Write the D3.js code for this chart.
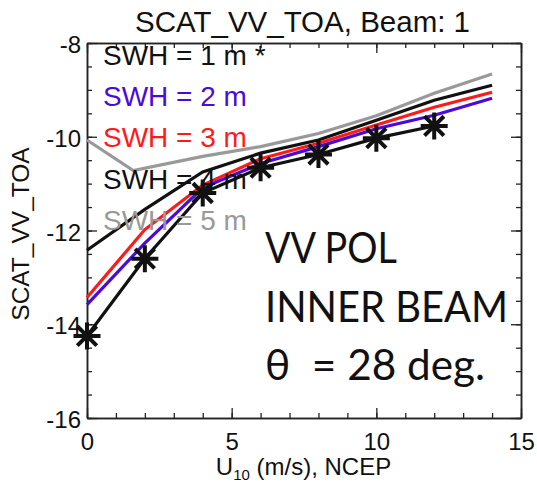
<!DOCTYPE html>
<html><head><meta charset="utf-8">
<script src="https://cdn.jsdelivr.net/npm/d3@7"></script>
<style>
html,body{margin:0;padding:0;background:#fff;}
svg{display:block;}
text{font-family:"Liberation Sans",Arial,Helvetica,sans-serif;}
</style></head>
<body><svg id="c" width="537" height="482"></svg>
<script>
// ---- data ----
const windX   = [0, 2, 4, 6, 8, 10, 12, 14];
const grayX   = [0, 1.6, 4, 6, 8, 10, 12, 14];
const markerX = [0, 2, 4, 6, 8, 10, 12];
const swh1 = [-14.25, -12.6, -11.2, -10.66, -10.38, -10.03, -9.77];
const swh2 = [-13.58, -12.27, -11.09, -10.57, -10.21, -9.83, -9.54, -9.18];
const swh3 = [-13.43, -11.98, -11.03, -10.47, -10.14, -9.75, -9.37, -9.05];
const swh4 = [-12.42, -11.55, -10.75, -10.35, -10.07, -9.65, -9.22, -8.9];
const swh5 = [-10.07, -10.72, -10.42, -10.21, -9.93, -9.55, -9.07, -8.66];
const legendLabels = ["SWH = 1 m *", "SWH = 2 m", "SWH = 3 m", "SWH = 4 m", "SWH = 5 m"];
const xMajorTicks = [0, 5, 10, 15];
const yMajorTicks = [-16, -14, -12, -10, -8];
const noteLines = ["VV POL", "INNER BEAM", "\u03b8  = 28 deg."];
const title = "SCAT_VV_TOA, Beam: 1";
const yTitle = "SCAT_VV_TOA";

// ---- layout ----
const L = 87, R = 521, T = 43, B = 418;
const colors = ["#111111", "#4a0adc", "#ff1a1a", "#111111", "#999999"];
const svg = d3.select("#c");
const x = d3.scaleLinear().domain([0, 15]).range([L, R]);
const y = d3.scaleLinear().domain([-16, -8]).range([B, T]);
const xMinor = d3.range(0, 16, 1);
const yMinor = d3.range(-16, -7.9, 0.5);
const fmt = d => String(d);

function styleAxis(g){
  g.select(".domain").attr("stroke","#222").attr("stroke-width",1.5);
  g.selectAll(".tick line").attr("stroke","#222").attr("stroke-width",1.3);
  g.selectAll(".tick text").attr("fill","#111").style("font-size","24px")
   .style("font-family",'"Liberation Sans",Arial,sans-serif');
}
// minor ticks
svg.append("g").attr("transform",`translate(0,${B})`)
  .call(d3.axisBottom(x).tickValues(xMinor).tickSizeInner(-5).tickSizeOuter(0).tickFormat(""))
  .call(styleAxis);
svg.append("g").attr("transform",`translate(0,${T})`)
  .call(d3.axisTop(x).tickValues(xMinor).tickSizeInner(-5).tickSizeOuter(0).tickFormat(""))
  .call(styleAxis);
svg.append("g").attr("transform",`translate(${L},0)`)
  .call(d3.axisLeft(y).tickValues(yMinor).tickSizeInner(-5).tickSizeOuter(0).tickFormat(""))
  .call(styleAxis);
svg.append("g").attr("transform",`translate(${R},0)`)
  .call(d3.axisRight(y).tickValues(yMinor).tickSizeInner(-5).tickSizeOuter(0).tickFormat(""))
  .call(styleAxis);
// major ticks
svg.append("g").attr("transform",`translate(0,${B})`)
  .call(d3.axisBottom(x).tickValues(xMajorTicks).tickSizeInner(-10).tickSizeOuter(0).tickPadding(15).tickFormat(fmt))
  .call(styleAxis);
svg.append("g").attr("transform",`translate(0,${T})`)
  .call(d3.axisTop(x).tickValues(xMajorTicks).tickSizeInner(-10).tickSizeOuter(0).tickFormat(""))
  .call(styleAxis);
svg.append("g").attr("transform",`translate(${L},0)`)
  .call(d3.axisLeft(y).tickValues(yMajorTicks).tickSizeInner(-10).tickSizeOuter(0).tickPadding(6).tickFormat(fmt))
  .call(styleAxis)
  .selectAll(".tick text").attr("dy","0.4em");
svg.append("g").attr("transform",`translate(${R},0)`)
  .call(d3.axisRight(y).tickValues(yMajorTicks).tickSizeInner(-10).tickSizeOuter(0).tickFormat(""))
  .call(styleAxis);

// lines
const line = d3.line().x(d=>x(d[0])).y(d=>y(d[1]));
const series = [
  {xs: markerX, ys: swh1, c: colors[0]},
  {xs: windX, ys: swh4, c: colors[3]},
  {xs: grayX, ys: swh5, c: colors[4]},
  {xs: windX, ys: swh3, c: colors[2]},
  {xs: windX, ys: swh2, c: colors[1]},
];
[series[2], series[1], series[3], series[4], series[0]].forEach(s=>{
  svg.append("path").datum(s.xs.map((v,i)=>[v, s.ys[i]]))
    .attr("d", line).attr("fill","none").attr("stroke", s.c)
    .attr("stroke-width",3.2).attr("stroke-linejoin","miter");
});
// asterisk markers
const r = 13.5;
const k = r*0.72;
const star = `M${-r},0L${r},0M0,${-r}L0,${r}M${-k},${-k}L${k},${k}M${-k},${k}L${k},${-k}`;
svg.append("g").selectAll("path").data(markerX.map((v,i)=>[v, swh1[i]])).join("path")
  .attr("transform", d=>`translate(${x(d[0])},${y(d[1])})`)
  .attr("d", star).attr("stroke","#111").attr("stroke-width",4).attr("fill","none");

// legend
svg.append("g").selectAll("text").data(legendLabels).join("text")
  .attr("x",103).attr("y",(d,i)=>64.5 + i*41.4)
  .attr("fill",(d,i)=>colors[i]).style("font-size","28px").text(d=>d);

// title
svg.append("text").attr("x",302.5).attr("y",31.5).attr("text-anchor","middle")
  .style("font-size","29.5px").attr("fill","#111").text(title);

// y title
svg.append("text").attr("transform","translate(29,234) rotate(-90)").attr("text-anchor","middle")
  .style("font-size","24.5px").attr("fill","#111").text(yTitle);

// x title with subscript
const xt = svg.append("text").attr("x",303.5).attr("y",475).attr("text-anchor","middle")
  .style("font-size","24px").attr("fill","#111");
xt.append("tspan").text("U");
xt.append("tspan").attr("dy",5).style("font-size","15px").text("10");
xt.append("tspan").attr("dy",-5).text(" (m/s), NCEP");

// annotation
const noteW = [132, 243, 220];
const noteY = [263, 322, 380];
svg.append("g").selectAll("text").data(noteLines).join("text")
  .attr("x",265).attr("y",(d,i)=>noteY[i])
  .attr("textLength",(d,i)=>noteW[i]).attr("lengthAdjust","spacingAndGlyphs")
  .attr("xml:space","preserve").style("white-space","pre")
  .style("font-family",'Lato,"Open Sans",sans-serif').style("font-size","42px")
  .attr("fill","#111").text(d=>d);
</script></body></html>
